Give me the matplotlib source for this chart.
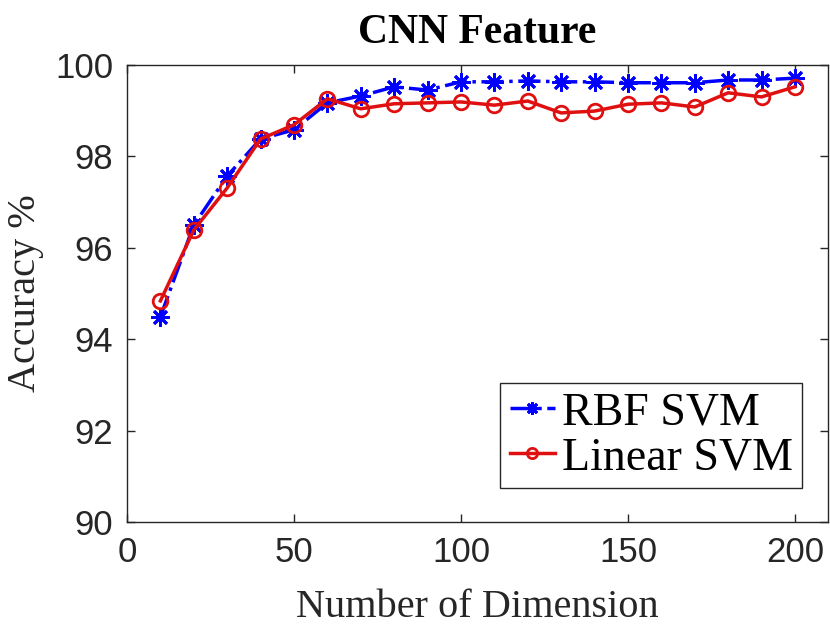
import matplotlib
matplotlib.use('Agg')
import matplotlib.pyplot as plt

dims = [10, 20, 30, 40, 50, 60, 70, 80, 90, 100, 110, 120, 130, 140, 150, 160, 170, 180, 190, 200]
rbf = [94.49, 96.5, 97.57, 98.38, 98.58, 99.17, 99.32, 99.52, 99.45, 99.63, 99.63, 99.65, 99.63,
       99.63, 99.61, 99.61, 99.61, 99.67, 99.67, 99.71]
linear = [94.84, 96.39, 97.31, 98.38, 98.69, 99.26, 99.04, 99.15, 99.17, 99.19, 99.12, 99.21, 98.95,
          98.99, 99.14, 99.17, 99.08, 99.39, 99.30, 99.52]

xticks = [0, 50, 100, 150, 200]
yticks = [90, 92, 94, 96, 98, 100]

fig = plt.figure(figsize=(8.3, 6.24), dpi=100)
ax = fig.add_axes([0.153, 0.163, 0.845, 0.733])

ax.plot(dims, rbf, color='#0000ff', linestyle='-.', linewidth=2.5, marker=(8, 2, 0),
        markersize=13, markeredgewidth=2, label='RBF SVM')
ax.plot(dims, linear, color='#e01010', linestyle='-', linewidth=2.5, marker='o',
        markersize=10.5, markerfacecolor='none', markeredgewidth=2, label='Linear SVM')

ax.set_xlim(0, 210)
ax.set_ylim(90, 100)
ax.set_xticks(xticks)
ax.set_yticks(yticks)
ax.tick_params(direction='in', top=True, right=True, length=6, width=1, colors='#262626',
               labelsize=25, labelcolor='#262626', pad=10)
for lab in ax.get_xticklabels() + ax.get_yticklabels():
    lab.set_family('Liberation Sans')
for s in ax.spines.values():
    s.set_color('#262626')
    s.set_linewidth(1)

ax.set_title('CNN Feature', fontfamily='Liberation Serif', fontweight='bold', fontsize=30, pad=16)
ax.set_xlabel('Number of Dimension', fontfamily='Liberation Serif', fontsize=29,
              color='#262626', labelpad=14)
ax.set_ylabel('Accuracy %', fontfamily='Liberation Serif', fontsize=29, color='#262626',
              labelpad=8)

leg = ax.legend(loc='lower right', bbox_to_anchor=(0.963, 0.074),
                prop={'family': 'Liberation Serif', 'size': 33},
                fancybox=False, edgecolor='#262626', framealpha=1, handlelength=1.0,
                handletextpad=0.15, borderpad=0.2, labelspacing=0.05, borderaxespad=0,
                markerscale=0.7)
leg.get_frame().set_linewidth(1)

fig.savefig('out.png', dpi=100)
